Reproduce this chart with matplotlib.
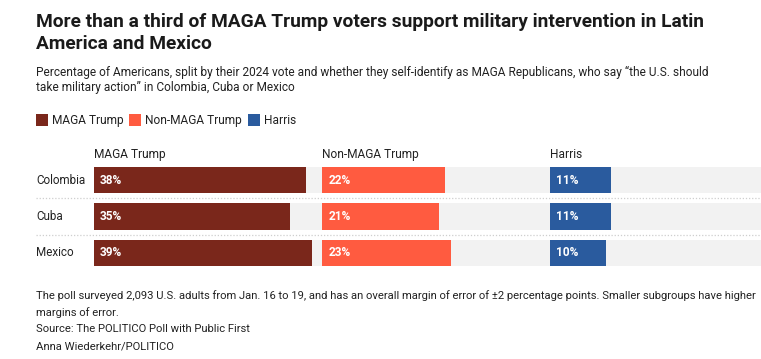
import matplotlib.pyplot as plt
from matplotlib.patches import Rectangle

countries = ["Colombia", "Cuba", "Mexico"]
groups = ["MAGA Trump", "Non-MAGA Trump", "Harris"]
maga = [38, 35, 39]
non_maga = [22, 21, 23]
harris = [11, 11, 10]
colors = ["#7a271b", "#ff5b40", "#2a5b9e"]

W, H = 761, 359
fig = plt.figure(figsize=(W / 100, H / 100), dpi=100)
plt.rcParams['font.family'] = ['Roboto', 'DejaVu Sans']
narrow = ['Liberation Sans Narrow', 'Roboto', 'DejaVu Sans']


def fx(x):
    return x / W


def fy(y):
    return 1 - y / H


def txt(x, y, s, **kw):
    fig.text(fx(x), fy(y), s, va='center', ha='left', **kw)


# titles
txt(36, 22, "More than a third of MAGA Trump voters support military intervention in Latin",
    fontsize=13.8, fontweight='bold', color='#1a1a1a')
txt(36, 44, "America and Mexico", fontsize=13.8, fontweight='bold', color='#1a1a1a')
txt(36, 72, "Percentage of Americans, split by their 2024 vote and whether they self-identify as MAGA Republicans, who say \u201cthe U.S. should",
    fontsize=8.6, color='#222222')
txt(36, 88, "take military action\u201d in Colombia, Cuba or Mexico", fontsize=8.6, color='#222222')

# legend
lx = [36, 129, 248]
for x, g, c in zip(lx, groups, colors):
    fig.add_artist(Rectangle((fx(x), fy(126)), 12 / W, 12 / H, transform=fig.transFigure,
                             color=c, lw=0))
    txt(x + 16, 120, g, fontsize=8.6, color='#222222')

# rows
top, bot = 162, 271
row_ax = fig.add_axes([fx(36), fy(bot), fx(761 - 36), (bot - top) / H])
row_ax.set_xlim(0, 1)
row_ax.set_ylim(2.5, -0.5)
row_ax.axis('off')
row_ax.hlines([0.5, 1.5], 0, 1, colors='#cfcfcf', linestyles=(0, (1, 1.5)), lw=0.9)
for i, c in enumerate(countries):
    row_ax.text(0, i, c, va='center', ha='left', fontsize=8.4, color='#222222')

vmax = max(maga + non_maga + harris)
lefts = [94, 322, 550]
for left, g, vals, c in zip(lefts, groups, [maga, non_maga, harris], colors):
    ax = fig.add_axes([fx(left), fy(bot), 218 / W, (bot - top) / H])
    ax.set_xlim(0, vmax)
    ax.set_ylim(2.5, -0.5)
    ax.axis('off')
    ax.barh(range(3), [vmax * 1.5] * 3, height=0.72, color='#f2f2f2', clip_on=False)
    ax.barh(range(3), vals, height=0.72, color=c)
    for i, v in enumerate(vals):
        ax.text(1.1, i, f"{v}%", va='center', ha='left', fontsize=8.6,
                fontweight='bold', color='white')
    txt(left, 155, g, fontsize=8.6, color='#222222')

# footer
foot = [
    (296, "The poll surveyed 2,093 U.S. adults from Jan. 16 to 19, and has an overall margin of error of \u00b12 percentage points. Smaller subgroups have higher"),
    (313, "margins of error."),
    (329, "Source: The POLITICO Poll with Public First"),
    (347, "Anna Wiederkehr/POLITICO"),
]
for y, s in foot:
    txt(36, y, s, fontsize=8.1, color='#222222', family=narrow)

fig.savefig("out.png", dpi=100, facecolor='white')
